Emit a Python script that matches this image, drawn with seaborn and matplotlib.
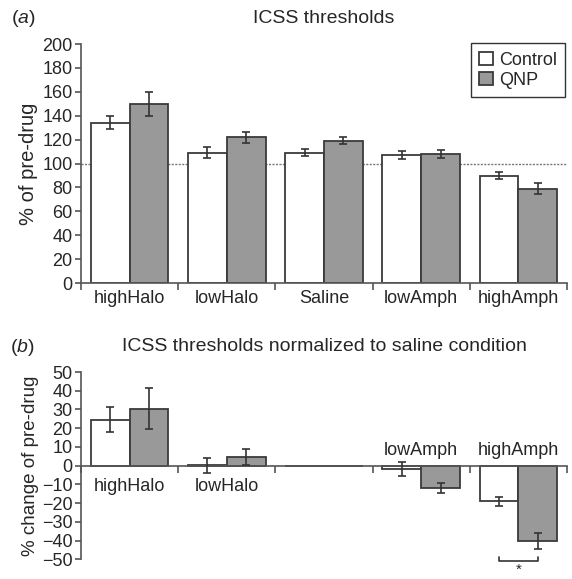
import numpy as np
import pandas as pd
import matplotlib
matplotlib.use("Agg")
import matplotlib.pyplot as plt
import seaborn as sns

conditions = ["highHalo", "lowHalo", "Saline", "lowAmph", "highAmph"]
groups = ["Control", "QNP"]

# panel a: % of pre-drug
a_control = [134, 109, 109, 107, 90]
a_qnp = [150, 122, 119, 108, 79]
a_control_err = [5.5, 4.5, 3, 3.5, 2.8]
a_qnp_err = [10, 4.5, 3, 3, 4.6]

# panel b: % change normalized to saline
b_control = [24.6, 0.2, 0, -2, -19]
b_qnp = [30.4, 4.8, 0, -11.8, -40]
b_control_err = [6.7, 4, 0, 3.7, 2.3]
b_qnp_err = [11, 4.2, 0, 2.8, 4.3]
b_labels = ["highHalo", "lowHalo", "", "lowAmph", "highAmph"]

sns.set_style("white")
plt.rcParams["font.family"] = ["Liberation Sans", "DejaVu Sans"]
plt.rcParams["mathtext.fontset"] = "custom"
plt.rcParams["mathtext.it"] = "Liberation Sans:italic"
plt.rcParams["mathtext.rm"] = "Liberation Sans"

palette = {"Control": "white", "QNP": "#999999"}
edge = "#3a3a3a"
axis_col = "#555555"
tick_fs = 13


def make_df(ctrl, qnp):
    return pd.DataFrame({
        "condition": conditions * 2,
        "group": ["Control"] * 5 + ["QNP"] * 5,
        "value": list(ctrl) + list(qnp),
    })


def draw_bars(ax, df, errs):
    sns.barplot(data=df, x="condition", y="value", hue="group", order=conditions,
                hue_order=groups, palette=palette, edgecolor=edge, linewidth=1.3,
                width=0.8, errorbar=None, ax=ax, legend=True)
    for cont, err in zip(ax.containers, errs):
        for bar, e in zip(cont, err):
            if e == 0:
                continue
            x = bar.get_x() + bar.get_width() / 2
            y = bar.get_y() + bar.get_height()
            ax.errorbar(x, y, yerr=e, color="#333333", capsize=3,
                        elinewidth=1.2, capthick=1.2, zorder=5)


def style_axis(ax):
    sns.despine(ax=ax)
    for s in ["left", "bottom"]:
        ax.spines[s].set_color(axis_col)
        ax.spines[s].set_linewidth(1.2)
    ax.set_xlim(-0.5, 4.5)
    ax.set_xticks(np.arange(-0.5, 5, 1), minor=True)
    ax.tick_params(axis="x", which="major", length=0, labelsize=tick_fs, pad=5)
    ax.tick_params(axis="x", which="minor", length=5, width=1.2, color=axis_col,
                   direction="out", bottom=True)
    ax.tick_params(axis="y", length=4, width=1.2, color=axis_col, direction="out",
                   left=True, labelsize=tick_fs, pad=2)
    ax.set_xlabel("")


fig = plt.figure(figsize=(5.72, 5.79), dpi=100)
ax1 = fig.add_axes([0.1416, 0.511, 0.8497, 0.413])
ax2 = fig.add_axes([0.1416, 0.034, 0.8497, 0.3235])

# panel a
draw_bars(ax1, make_df(a_control, a_qnp), [a_control_err, a_qnp_err])
style_axis(ax1)
ax1.set_ylim(0, 200)
ax1.set_yticks(range(0, 201, 20))
ax1.axhline(100, color="#777777", linestyle=(0, (1.5, 1)), linewidth=1.0, zorder=0.5)
ax1.set_ylabel("% of pre-drug", fontsize=14.5, labelpad=3)
ax1.set_title("ICSS thresholds", fontsize=14, pad=15)
leg = ax1.legend(loc="upper right", bbox_to_anchor=(1.007, 1.025), frameon=True,
                 fancybox=False, edgecolor="black", fontsize=13, handlelength=0.75,
                 handleheight=0.75, handletextpad=0.35, borderpad=0.45, labelspacing=0.2,
                 borderaxespad=0.3)
leg.get_frame().set_linewidth(1.0)
fig.text(0.02, 0.968, r"($\mathit{a}$)", fontsize=14, va="center")

# panel b
draw_bars(ax2, make_df(b_control, b_qnp), [b_control_err, b_qnp_err])
ax2.get_legend().remove()
style_axis(ax2)
ax2.set_ylim(-50, 50)
ax2.set_yticks(range(-50, 51, 10))
ax2.spines["bottom"].set_position(("data", 0))
ax2.set_xticklabels([])
ax2.set_ylabel("% change of pre-drug", fontsize=13.5, labelpad=2)
ax2.set_title("ICSS thresholds normalized to saline condition", fontsize=14, pad=15)
for i, lab in enumerate(b_labels):
    if not lab:
        continue
    if b_control[i] + b_qnp[i] >= 0:
        ax2.text(i, -6.5, lab, ha="center", va="top", fontsize=tick_fs)
    else:
        ax2.text(i, 3.5, lab, ha="center", va="bottom", fontsize=tick_fs)

# significance bracket under highAmph
xs = [bar.get_x() + bar.get_width() / 2 for bar in (ax2.containers[0][4], ax2.containers[1][4])]
ax2.plot([xs[0], xs[0], xs[1], xs[1]], [-48.5, -51, -51, -48.5], color="#333333",
         linewidth=1.2, clip_on=False)
ax2.text(sum(xs) / 2, -51.8, "*", ha="center", va="top", fontsize=11, clip_on=False)
fig.text(0.018, 0.40, r"($\mathit{b}$)", fontsize=14, va="center")

fig.savefig("out.png", dpi=100)
